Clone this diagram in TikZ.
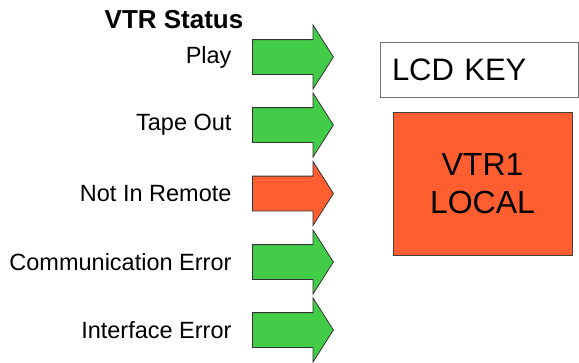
\documentclass[tikz,border=0pt]{standalone}
\usepackage{fontspec}
\setmainfont{Liberation Sans}
\usetikzlibrary{positioning}
\usetikzlibrary{shapes.arrows}
\definecolor{lampgreen}{RGB}{66,204,72}
\definecolor{lampred}{RGB}{255,94,48}
\tikzset{
	node distance = 17pt and 17pt,
	lamp/.style = {single arrow, draw=black!80, line width=0.8pt, minimum height=81pt, minimum width=63pt,
		single arrow head extend=14.5pt, single arrow tip angle=115, inner xsep=0pt, inner ysep=17pt, anchor=tail},
	lampon/.style = {lamp, fill=lampgreen},
	lampoff/.style = {lamp, fill=lampred},
	tag/.style = {font=\fontsize{23.5}{26}\selectfont},
	keybox/.style = {draw=black!55, line width=0.8pt, minimum height=55pt, inner xsep=12pt, text width=174pt, align=left,
		font=\fontsize{31}{36}\selectfont},
	showbox/.style = {draw=black!75, line width=0.8pt, fill=lampred, minimum width=179pt, minimum height=143pt, align=center,
		font=\fontsize{32}{38}\selectfont}
}

\begin{document}
\begin{tikzpicture}[x=1pt, y=-1pt]
	\useasboundingbox (0,0) rectangle (579,362);

	\node (title) at (174,20) [font=\bfseries\fontsize{26}{28}\selectfont] {VTR Status};

	\node (play) at (252,57) [lampon] {};
	\node (tape) at (252,125) [lampon] {};
	\node (remote) at (252,193.5) [lampoff] {};
	\node (comm) at (252,262) [lampon] {};
	\node (iface) at (252,330) [lampon] {};

	\node (lplay) [tag, left = of play.tail] {Play};
	\node (ltape) [tag, left = of tape.tail] {Tape Out};
	\node (lremote) [tag, left = of remote.tail] {Not In Remote};
	\node (lcomm) [tag, left = of comm.tail] {Communication Error};
	\node (liface) [tag, left = of iface.tail] {Interface Error};

	\node (key) at (479,69.5) [keybox] {LCD KEY};
	\node (local) at (482.5,183.5) [showbox] {VTR1\\LOCAL};
\end{tikzpicture}
\end{document}
